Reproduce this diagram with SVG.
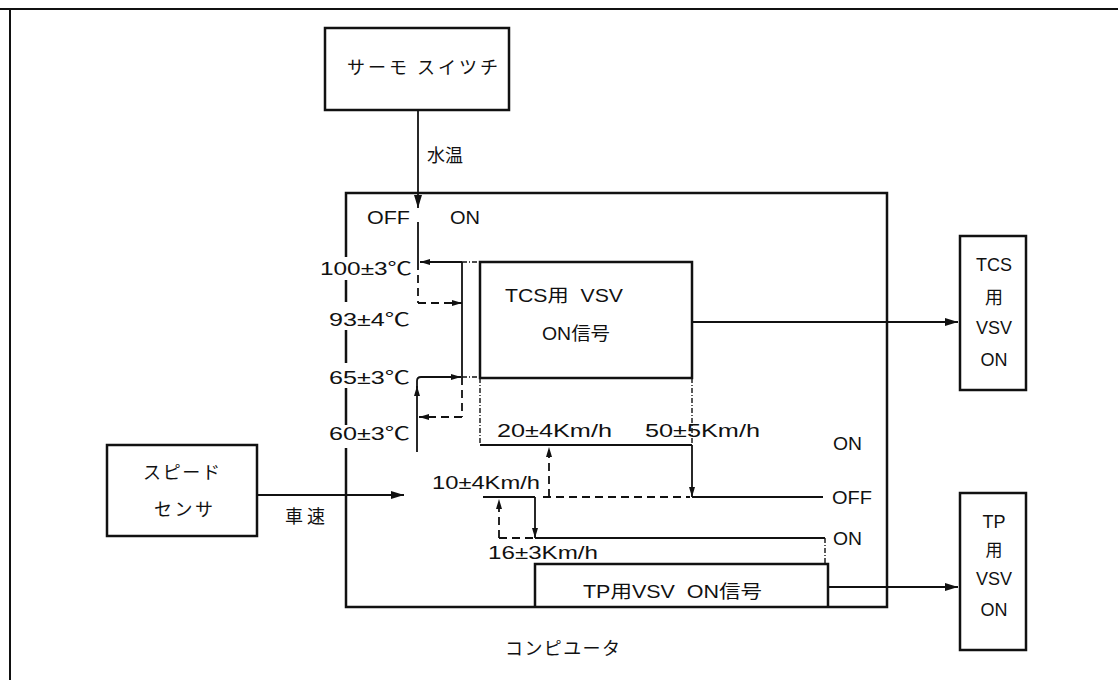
<svg xmlns="http://www.w3.org/2000/svg" width="1118" height="680" viewBox="0 0 1118 680">
<style>
text{font-family:"Liberation Sans","Noto Sans CJK JP",sans-serif;font-size:18px;fill:#111;}
.j{font-family:"Noto Sans CJK JP","Liberation Sans",sans-serif;font-size:18px;}
.box{fill:none;stroke:#111;stroke-width:2.5;}
.frame{fill:none;stroke:#111;stroke-width:2;}
.ln{fill:none;stroke:#111;stroke-width:1.8;}
.ds{fill:none;stroke:#111;stroke-width:1.8;stroke-dasharray:8 5;}
.dt{fill:none;stroke:#111;stroke-width:1.4;stroke-dasharray:5 2 1 2;}
.c{text-anchor:middle;}
</style>
<defs>
<marker id="arr" markerUnits="userSpaceOnUse" markerWidth="13" markerHeight="8" refX="13" refY="4" orient="auto"><path d="M0,0 L13,4 L0,8 z" fill="#111"/></marker>
<marker id="arrs" markerUnits="userSpaceOnUse" markerWidth="10" markerHeight="6" refX="10" refY="3" orient="auto"><path d="M0,0 L10,3 L0,6 z" fill="#111"/></marker>
</defs>
<g id="frame">
<line class="frame" x1="0" y1="9" x2="1118" y2="9"/>
<line class="frame" x1="10" y1="9" x2="10" y2="680"/>
</g>
<g id="thermo-switch">
<rect class="box" x="325" y="28" width="184" height="82"/>
<text class="j" x="347" y="74" textLength="151" lengthAdjust="spacing">サーモ スイツチ</text>
</g>
<g id="speed-sensor">
<rect class="box" x="107" y="445" width="150" height="91"/>
<text class="j" x="143" y="479" textLength="77" lengthAdjust="spacing">スピード</text>
<text class="j" x="154" y="516" textLength="59" lengthAdjust="spacing">センサ</text>
</g>
<g id="computer">
<path class="box" d="M346,257 V193 H887 V607 H346 V448 M346,280 V302 M346,330 V363 M346,388 V425"/>
<text class="j" x="505" y="655" textLength="115" lengthAdjust="spacing">コンピユータ</text>
</g>
<g id="tcs-signal">
<rect class="box" x="480" y="262" width="212" height="116"/>
<text x="505" y="302" textLength="118" lengthAdjust="spacingAndGlyphs">TCS用&#160;&#160;VSV</text>
<text x="542" y="340" textLength="68" lengthAdjust="spacingAndGlyphs">ON信号</text>
</g>
<g id="tp-signal">
<path class="box" d="M535,607 V564 H828 V607"/>
<text x="583" y="598" textLength="179" lengthAdjust="spacingAndGlyphs">TP用VSV&#160;&#160;ON信号</text>
</g>
<g id="tcs-vsv-on">
<rect class="box" x="960" y="236" width="66" height="154"/>
<text class="c" x="994" y="271">TCS</text>
<text class="c j" x="994" y="304">用</text>
<text class="c" x="994" y="334">VSV</text>
<text class="c" x="994" y="366">ON</text>
</g>
<g id="tp-vsv-on">
<rect class="box" x="960" y="493" width="66" height="157"/>
<text class="c" x="994" y="528">TP</text>
<text class="c j" x="994" y="556" style="font-size:17px">用</text>
<text class="c" x="994" y="585">VSV</text>
<text class="c" x="994" y="616">ON</text>
</g>
<g id="labels">
<text class="j" x="427" y="162">水温</text>
<text x="367" y="224" textLength="43" lengthAdjust="spacingAndGlyphs">OFF</text>
<text x="450" y="224" textLength="30" lengthAdjust="spacingAndGlyphs">ON</text>
<text x="320" y="275" textLength="92" lengthAdjust="spacingAndGlyphs">100±3℃</text>
<text x="329" y="326" textLength="81" lengthAdjust="spacingAndGlyphs">93±4℃</text>
<text x="329" y="384" textLength="81" lengthAdjust="spacingAndGlyphs">65±3℃</text>
<text x="329" y="440" textLength="81" lengthAdjust="spacingAndGlyphs">60±3℃</text>
<text x="497" y="437" textLength="115" lengthAdjust="spacingAndGlyphs">20±4Km/h</text>
<text x="645" y="437" textLength="115" lengthAdjust="spacingAndGlyphs">50±5Km/h</text>
<text x="432" y="489" textLength="108" lengthAdjust="spacingAndGlyphs">10±4Km/h</text>
<text x="488" y="559" textLength="110" lengthAdjust="spacingAndGlyphs">16±3Km/h</text>
<text x="833" y="450" textLength="29" lengthAdjust="spacingAndGlyphs">ON</text>
<text x="832" y="504" textLength="40" lengthAdjust="spacingAndGlyphs">OFF</text>
<text x="833" y="545" textLength="29" lengthAdjust="spacingAndGlyphs">ON</text>
<text class="j" x="285" y="523" textLength="40" lengthAdjust="spacing">車速</text>
</g>
<g id="connectors">
<line class="ln" x1="418" y1="110" x2="418" y2="208" marker-end="url(#arr)"/>
<line class="ln" x1="257" y1="495" x2="404" y2="495" marker-end="url(#arr)"/>
<line class="ln" x1="692" y1="322" x2="958" y2="322" marker-end="url(#arr)"/>
<line class="ln" x1="828" y1="587" x2="958" y2="587" marker-end="url(#arr)"/>
<line class="ln" x1="418" y1="222" x2="418" y2="262"/>
<line class="ln" x1="462" y1="262" x2="420" y2="262" marker-end="url(#arrs)"/>
<line class="ds" x1="418" y1="262" x2="418" y2="303"/>
<line class="ds" x1="418" y1="303" x2="462" y2="303" marker-end="url(#arrs)"/>
<line class="ln" x1="462" y1="262" x2="462" y2="377"/>
<line class="ds" x1="462" y1="377" x2="462" y2="417"/>
<line class="ds" x1="462" y1="417" x2="419" y2="417" marker-end="url(#arrs)"/>
<line class="ln" x1="417" y1="452" x2="417" y2="386" marker-end="url(#arrs)"/>
<path class="ln" d="M417,388 V381 Q417,377 421,377 H461" marker-end="url(#arrs)"/>
<line class="dt" x1="462" y1="262" x2="480" y2="262"/>
<line class="dt" x1="462" y1="377" x2="480" y2="377"/>
<line class="dt" x1="480" y1="378" x2="480" y2="445"/>
<line class="dt" x1="692" y1="378" x2="692" y2="445"/>
<line class="ln" x1="480" y1="445" x2="692" y2="445"/>
<line class="ln" x1="692" y1="445" x2="692" y2="497" marker-end="url(#arrs)"/>
<line class="ln" x1="692" y1="497" x2="823" y2="497"/>
<line class="ds" x1="543" y1="497" x2="690" y2="497"/>
<line class="ds" x1="549" y1="497" x2="549" y2="447" marker-end="url(#arrs)"/>
<line class="ln" x1="483" y1="497" x2="535" y2="497"/>
<line class="ln" x1="535" y1="497" x2="535" y2="538" marker-end="url(#arrs)"/>
<line class="ds" x1="499" y1="538" x2="499" y2="499" marker-end="url(#arrs)"/>
<line class="ds" x1="499" y1="538" x2="535" y2="538"/>
<line class="ln" x1="535" y1="538" x2="825" y2="538"/>
<line class="dt" x1="825" y1="538" x2="825" y2="564"/>
</g>
</svg>
